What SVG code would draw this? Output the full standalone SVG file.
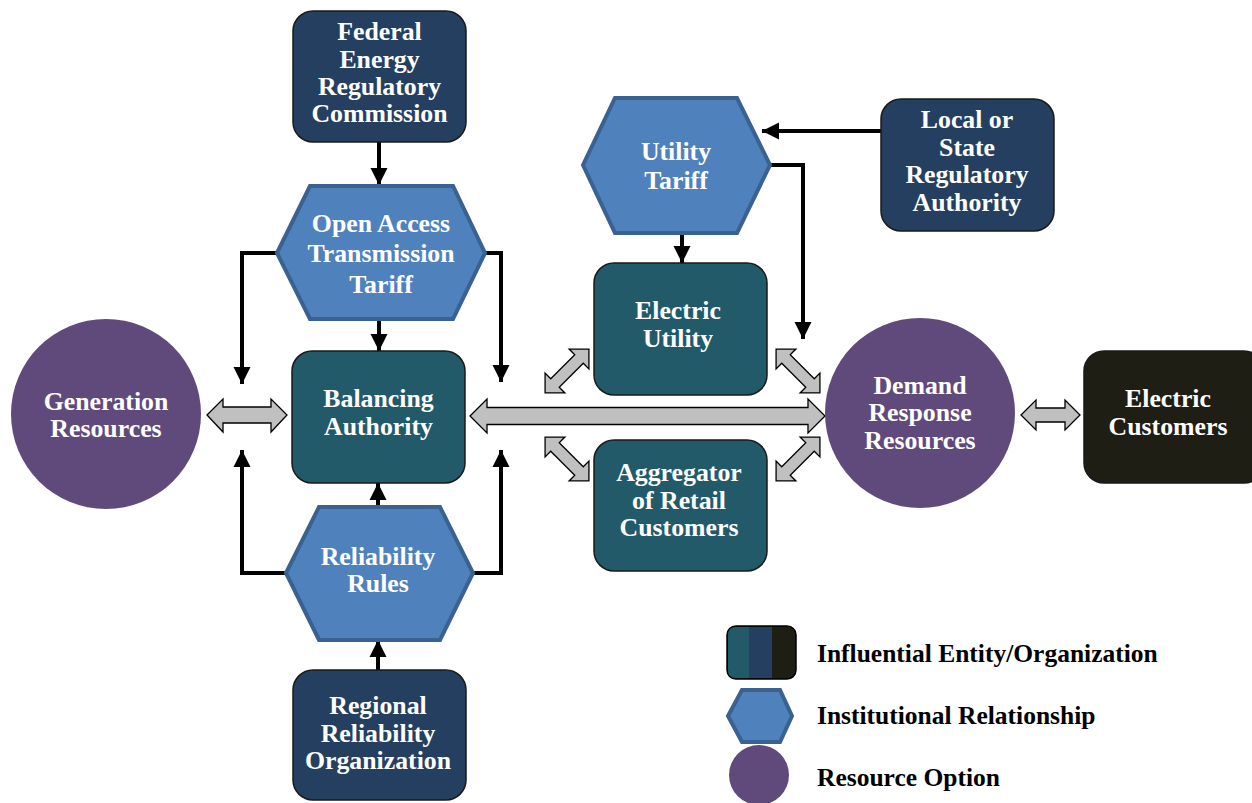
<svg xmlns="http://www.w3.org/2000/svg" width="1252" height="803" viewBox="0 0 1252 803">
<defs>
<style>
.t{font-family:"Liberation Serif","Times New Roman",serif;font-weight:bold;font-size:25.8px;fill:#fff;text-anchor:middle;dominant-baseline:central}
.lg{font-family:"Liberation Serif","Times New Roman",serif;font-weight:bold;font-size:25.5px;fill:#000;dominant-baseline:central}
.navy{fill:#243F60;stroke:#1a1a1a;stroke-width:1.5}
.teal{fill:#225A69;stroke:#1a1a1a;stroke-width:1.5}
.blk{fill:#1F1E14;stroke:#1a1a1a;stroke-width:1.5}
.hex{fill:#4F81BD;stroke:#3A6190;stroke-width:4;stroke-linejoin:miter}
.res{fill:#604A7B}
.ln{fill:none;stroke:#000;stroke-width:4}
.ba{fill:#C0C0C0;stroke:#000;stroke-width:1.3;stroke-linejoin:miter}
</style>
<marker id="ah" viewBox="0 0 10 10" refX="10" refY="5" markerWidth="4.3" markerHeight="4.3" orient="auto" markerUnits="strokeWidth">
<path d="M0 0 L10 5 L0 10 Z" fill="#000"/>
</marker>
<path id="da" class="ba" d="M-31 0 L-17 -14 L-17 -6 L17 -6 L17 -14 L31 0 L17 14 L17 6 L-17 6 L-17 14 Z"/>
</defs>

<g id="connectors">
<line class="ln" x1="379" y1="142" x2="379" y2="185" marker-end="url(#ah)"/>
<line class="ln" x1="379" y1="319" x2="379" y2="351" marker-end="url(#ah)"/>
<polyline class="ln" points="277,253 242,253 242,384" marker-end="url(#ah)"/>
<polyline class="ln" points="485,253 501,253 501,382" marker-end="url(#ah)"/>
<line class="ln" x1="378" y1="507" x2="378" y2="483" marker-end="url(#ah)"/>
<line class="ln" x1="378" y1="670" x2="378" y2="640" marker-end="url(#ah)"/>
<polyline class="ln" points="286,573 242,573 242,450" marker-end="url(#ah)"/>
<polyline class="ln" points="473,573 501,573 501,450" marker-end="url(#ah)"/>
<line class="ln" x1="682" y1="233" x2="682" y2="263" marker-end="url(#ah)"/>
<line class="ln" x1="881" y1="131" x2="762" y2="131" marker-end="url(#ah)"/>
<polyline class="ln" points="770,165 803,165 803,339" marker-end="url(#ah)"/>
<path class="ba" d="M207 415 L223 399 L223 407 L271 407 L271 399 L287 415 L271 432 L271 423 L223 423 L223 432 Z"/>
<path class="ba" d="M470 416 L487 399 L487 407.5 L808 407.5 L808 399 L825 416 L808 433 L808 424.5 L487 424.5 L487 433 Z"/>
<path class="ba" d="M1021 415 L1036 400 L1036 408 L1065 408 L1065 400 L1080 415 L1065 430 L1065 422 L1036 422 L1036 430 Z"/>
<use href="#da" transform="translate(567 371) rotate(-45)"/>
<use href="#da" transform="translate(798 371) rotate(45)"/>
<use href="#da" transform="translate(567 459) rotate(45)"/>
<use href="#da" transform="translate(798 459) rotate(-45)"/>
</g>

<g id="ferc">
<rect class="navy" x="293" y="11" width="173" height="131" rx="20"/>
<text class="t" x="379.5" y="31">Federal</text>
<text class="t" x="379.5" y="59">Energy</text>
<text class="t" x="379.5" y="86">Regulatory</text>
<text class="t" x="379.5" y="113">Commission</text>
</g>

<g id="oatt">
<polygon class="hex" points="277,253 310,186 453,186 485,253 453,319 310,319"/>
<text class="t" x="381" y="223">Open Access</text>
<text class="t" x="381" y="253">Transmission</text>
<text class="t" x="381" y="284">Tariff</text>
</g>

<g id="balancing">
<rect class="teal" x="292" y="351" width="173" height="132" rx="20"/>
<text class="t" x="378.5" y="398">Balancing</text>
<text class="t" x="378.5" y="426">Authority</text>
</g>

<g id="reliability-rules">
<polygon class="hex" points="286,573 319,507 440,507 473,573 440,640 319,640"/>
<text class="t" x="378" y="556">Reliability</text>
<text class="t" x="378" y="583">Rules</text>
</g>

<g id="rro">
<rect class="navy" x="293" y="670" width="173" height="130" rx="20"/>
<text class="t" x="378" y="705">Regional</text>
<text class="t" x="378" y="733">Reliability</text>
<text class="t" x="378" y="760">Organization</text>
</g>

<g id="generation">
<circle class="res" cx="106" cy="414" r="95"/>
<text class="t" x="106" y="401">Generation</text>
<text class="t" x="106" y="428">Resources</text>
</g>

<g id="utility-tariff">
<polygon class="hex" points="583,165 615,98 737,98 770,165 737,233 615,233"/>
<text class="t" x="676" y="151">Utility</text>
<text class="t" x="676" y="180">Tariff</text>
</g>

<g id="lsra">
<rect class="navy" x="881" y="99" width="173" height="132" rx="20"/>
<text class="t" x="967" y="119">Local or</text>
<text class="t" x="967" y="147">State</text>
<text class="t" x="967" y="174">Regulatory</text>
<text class="t" x="967" y="202">Authority</text>
</g>

<g id="electric-utility">
<rect class="teal" x="594" y="263" width="173" height="132" rx="20"/>
<text class="t" x="678" y="310">Electric</text>
<text class="t" x="678" y="338">Utility</text>
</g>

<g id="aggregator">
<rect class="teal" x="594" y="440" width="173" height="131" rx="20"/>
<text class="t" x="679" y="472">Aggregator</text>
<text class="t" x="679" y="500">of Retail</text>
<text class="t" x="679" y="527">Customers</text>
</g>

<g id="demand-response">
<circle class="res" cx="920" cy="413" r="95"/>
<text class="t" x="920" y="385">Demand</text>
<text class="t" x="920" y="412">Response</text>
<text class="t" x="920" y="440">Resources</text>
</g>

<g id="electric-customers">
<rect class="blk" x="1084" y="351" width="180" height="132" rx="20"/>
<text class="t" x="1168" y="398">Electric</text>
<text class="t" x="1168" y="426">Customers</text>
</g>

<g id="legend">
<rect x="727" y="626" width="69" height="53" rx="9" fill="#1F1E14" stroke="#000" stroke-width="1.5"/>
<rect x="749" y="627" width="23" height="51" fill="#243F60"/>
<path d="M749 627 L736 627 Q728 627 728 635 L728 670 Q728 678 736 678 L749 678 Z" fill="#225A69"/>
<polygon class="hex" points="728,716 742,690 780,690 792,716 780,742 742,742" stroke-width="3"/>
<circle class="res" cx="759" cy="775" r="30"/>
<text class="lg" x="817" y="653">Influential Entity/Organization</text>
<text class="lg" x="817" y="715">Institutional Relationship</text>
<text class="lg" x="817" y="777">Resource Option</text>
</g>
</svg>
